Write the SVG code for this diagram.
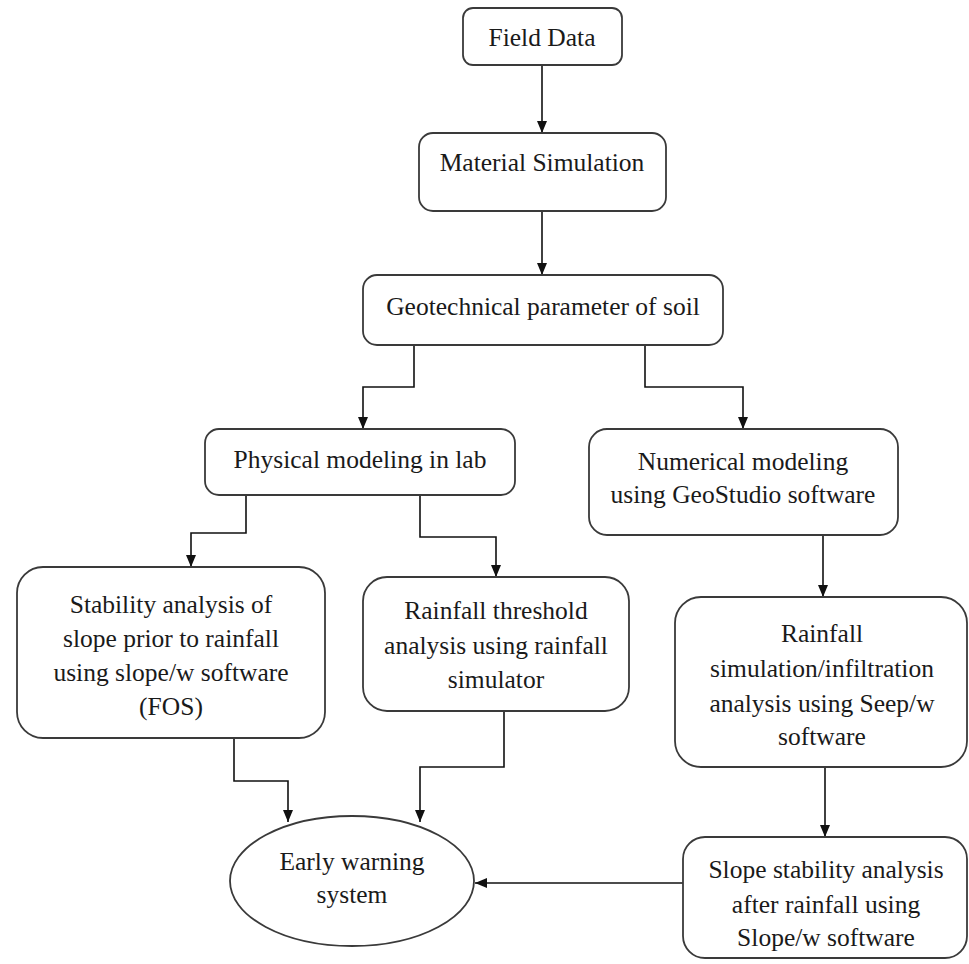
<svg xmlns="http://www.w3.org/2000/svg" width="969" height="964" viewBox="0 0 969 964">
<style>
.box{fill:#fff;stroke:#3a3a3a;stroke-width:1.8}
.t{font-family:'Liberation Serif','Times New Roman',Times,'DejaVu Serif',serif;font-size:25.5px;fill:#1a1a1a;text-anchor:middle}
.c{fill:none;stroke:#111;stroke-width:1.6}
</style>
<defs>
<marker id="ah" markerWidth="12" markerHeight="12" viewBox="0 0 12 12" refX="12" refY="6" orient="auto" markerUnits="userSpaceOnUse">
<path d="M0,1 L12,6 L0,11 Z" fill="#111"/>
</marker>
</defs>
<rect width="969" height="964" fill="#fff"/>
<g id="connectors">
<path class="c" d="M542,65 V133" marker-end="url(#ah)"/>
<path class="c" d="M542,211 V275" marker-end="url(#ah)"/>
<path class="c" d="M414,345 V387 H363 V429" marker-end="url(#ah)"/>
<path class="c" d="M645,345 V387 H743 V429" marker-end="url(#ah)"/>
<path class="c" d="M246,495 V533 H191 V567" marker-end="url(#ah)"/>
<path class="c" d="M420,495 V537 H496 V577" marker-end="url(#ah)"/>
<path class="c" d="M823,535 V597" marker-end="url(#ah)"/>
<path class="c" d="M234,738 V781 H288 V822" marker-end="url(#ah)"/>
<path class="c" d="M504,711 V767 H420 V822" marker-end="url(#ah)"/>
<path class="c" d="M825,767 V837" marker-end="url(#ah)"/>
<path class="c" d="M683,883 H475" marker-end="url(#ah)"/>
</g>
<g id="field-data">
<rect class="box" x="463" y="8" width="159" height="57" rx="10"/>
<text class="t" font-family="Liberation Serif, serif" x="542" y="46">Field Data</text>
</g>
<g id="material-simulation">
<rect class="box" x="419" y="133" width="247" height="78" rx="14"/>
<text class="t" x="542" y="171">Material Simulation</text>
</g>
<g id="geotechnical">
<rect class="box" x="363" y="275" width="360" height="70" rx="14"/>
<text class="t" x="543" y="315">Geotechnical parameter of soil</text>
</g>
<g id="physical-modeling">
<rect class="box" x="205" y="429" width="310" height="66" rx="14"/>
<text class="t" x="360" y="468">Physical modeling in lab</text>
</g>
<g id="numerical-modeling">
<rect class="box" x="589" y="429" width="309" height="106" rx="18"/>
<text class="t" x="743" y="470">Numerical modeling</text>
<text class="t" x="743" y="503">using GeoStudio software</text>
</g>
<g id="stability-prior">
<rect class="box" x="17" y="567" width="308" height="171" rx="26"/>
<text class="t" x="171" y="613">Stability analysis of</text>
<text class="t" x="171" y="647">slope prior to rainfall</text>
<text class="t" x="171" y="681">using slope/w software</text>
<text class="t" x="171" y="715">(FOS)</text>
</g>
<g id="rainfall-threshold">
<rect class="box" x="363" y="577" width="266" height="134" rx="24"/>
<text class="t" x="496" y="619">Rainfall threshold</text>
<text class="t" x="496" y="654">analysis using rainfall</text>
<text class="t" x="496" y="688">simulator</text>
</g>
<g id="rainfall-simulation">
<rect class="box" x="675" y="597" width="292" height="170" rx="26"/>
<text class="t" x="822" y="642">Rainfall</text>
<text class="t" x="822" y="677">simulation/infiltration</text>
<text class="t" x="822" y="712">analysis using Seep/w</text>
<text class="t" x="822" y="745">software</text>
</g>
<g id="early-warning">
<ellipse class="box" cx="352" cy="881" rx="122" ry="65"/>
<text class="t" x="352" y="870">Early warning</text>
<text class="t" x="352" y="903">system</text>
</g>
<g id="slope-stability-after">
<rect class="box" x="683" y="837" width="284" height="121" rx="22"/>
<text class="t" x="826" y="878">Slope stability analysis</text>
<text class="t" x="826" y="913">after rainfall using</text>
<text class="t" x="826" y="946">Slope/w software</text>
</g>
</svg>
